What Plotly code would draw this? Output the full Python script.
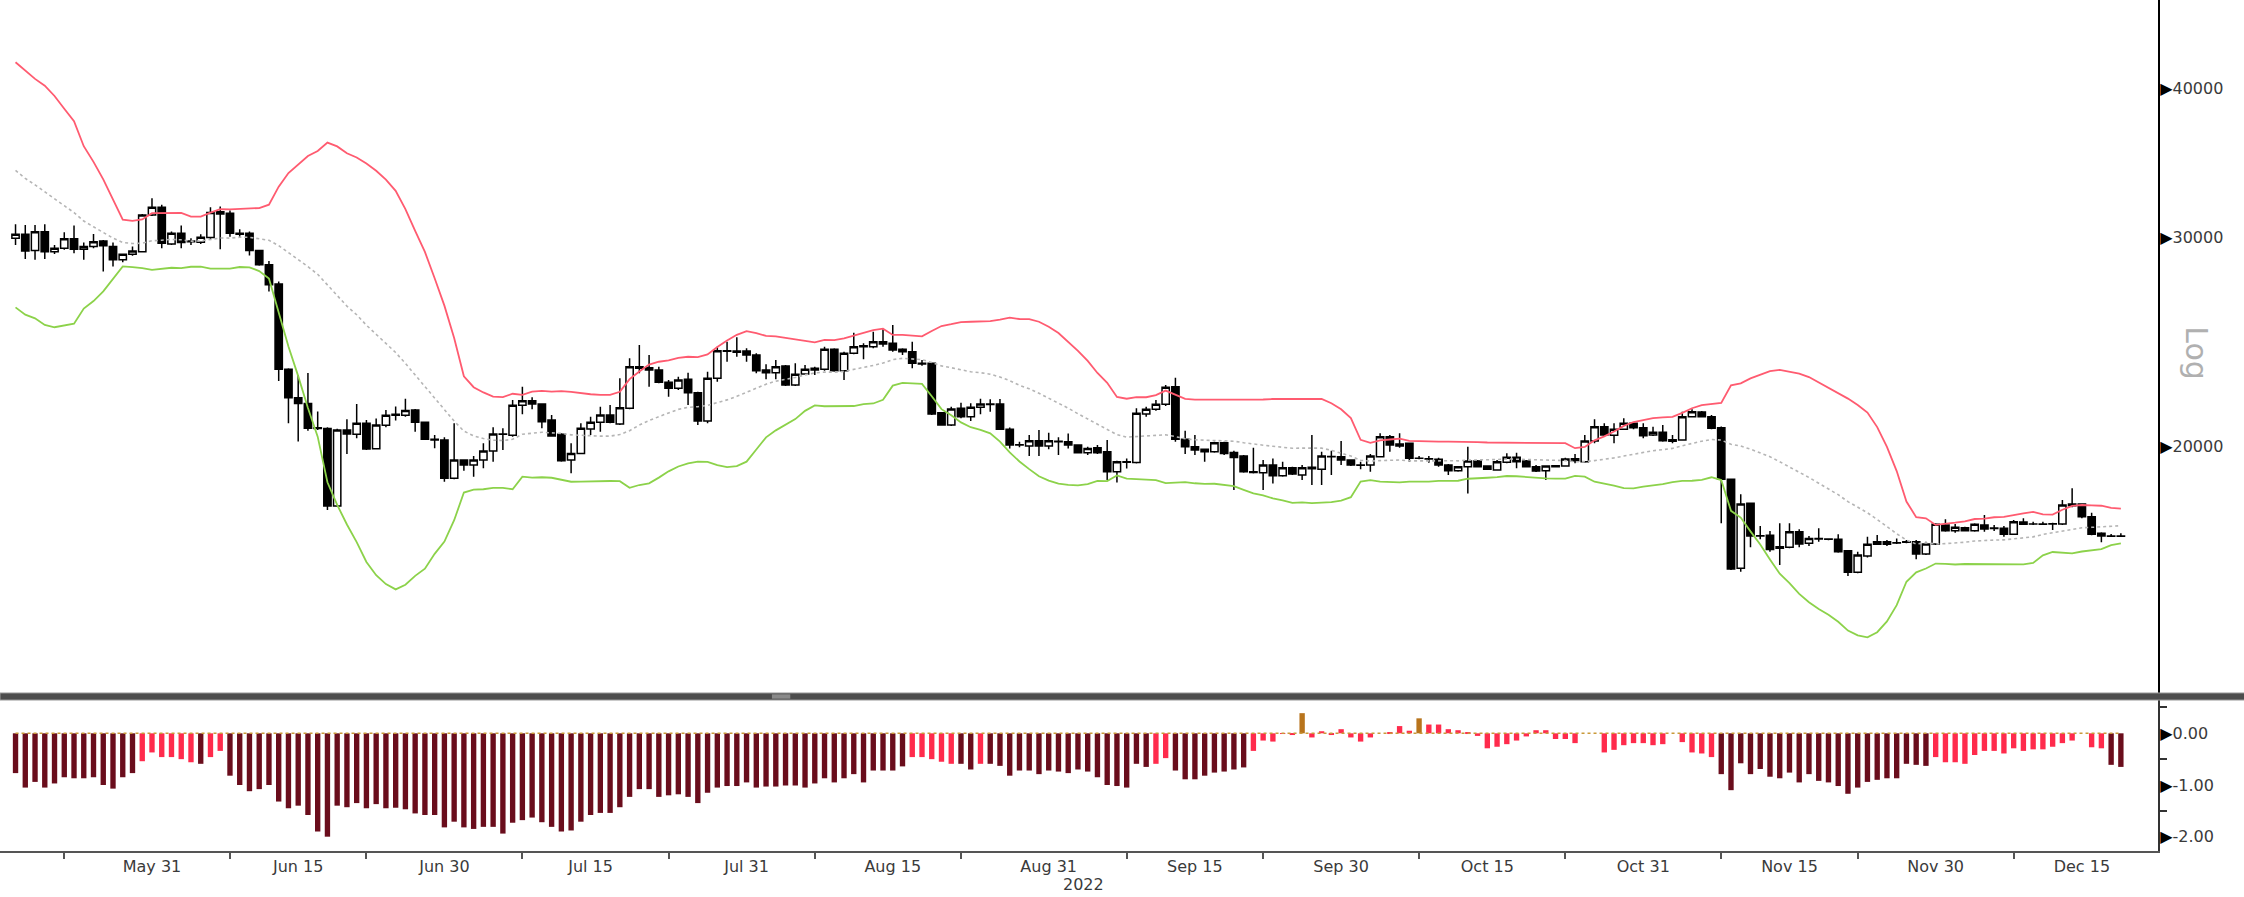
import pandas as pd
import plotly.graph_objects as go

# ---- daily prices, 17 May - 19 Dec 2022 ----
dates = pd.date_range("2022-05-17", "2022-12-19", freq="D")

ohlc = [
    # May
    (29930, 30750, 29540, 30160), (30160, 30710, 28750, 29200), (29220, 30710, 28700, 30300),
    (30300, 30750, 28750, 29150), (29150, 29540, 29030, 29350), (29350, 30280, 29260, 29890),
    (29890, 30670, 29070, 29300), (29300, 29680, 28700, 29450), (29450, 30180, 29350, 29730),
    (29770, 29830, 28050, 29490), (29450, 29680, 28330, 28700), (28700, 29010, 28570, 29010),
    (29010, 29450, 28920, 29200), (29150, 31370, 29110, 31310), (31310, 32340, 31250, 31780),
    # Jun
    (31780, 31930, 29350, 29640), (29600, 30320, 29540, 30220), (30220, 30670, 29350, 29680),
    (29730, 29930, 29540, 29760), (29700, 30160, 29600, 29990), (29970, 31780, 29870, 31460),
    (31500, 31830, 29300, 31370), (31415, 31580, 30020, 30220), (30220, 30450, 30020, 30160),
    (30220, 30320, 28940, 29220), (29220, 29260, 28365, 28420), (28420, 28640, 26990, 27340),
    (27380, 27520, 22690, 23210), (23210, 23250, 20900, 21965), (21965, 22950, 20170, 21720),
    (21720, 23040, 20600, 20700), (20690, 21380, 20630, 20720), (20690, 20740, 17660, 17800),
    (17800, 20680, 17780, 20630), (20630, 21060, 19690, 20470), (20460, 21700, 20300, 20900),
    (20900, 21030, 19845, 19880), (19895, 21100, 19870, 20830), (20820, 21450, 20740, 21230),
    (21230, 21590, 21010, 21270), (21230, 21920, 21170, 21420), (21450, 21490, 20560, 20940),
    (20940, 20970, 20230, 20260), (20260, 20430, 19910, 20230), (20233, 20337, 18661, 18782),
    # Jul
    (18782, 20898, 18746, 19462), (19462, 19487, 19063, 19274), (19274, 19614, 18843, 19462),
    (19462, 20102, 19150, 19805), (19805, 20736, 19399, 20469), (20469, 20696, 19844, 20456),
    (20417, 21865, 20364, 21640), (21640, 22430, 21265, 21836), (21836, 21978, 21472, 21696),
    (21696, 21724, 20696, 20965), (21033, 21238, 20364, 20390), (20456, 20496, 19399, 19437),
    (19462, 20102, 18965, 19715), (19715, 20898, 19690, 20696), (20669, 21169, 20430, 20938),
    (20938, 21584, 20563, 21238), (21238, 21654, 20898, 20938), (20870, 22804, 20830, 21542),
    (21514, 23707, 21472, 23327), (23327, 24328, 23026, 23251), (23281, 23861, 22438, 23176),
    (23176, 23327, 22583, 22627), (22627, 22730, 22006, 22365), (22365, 22878, 22293, 22730),
    (22760, 23056, 21654, 22178), (22178, 22221, 20830, 20992), (20992, 23101, 20898, 22804),
    (22804, 24250, 22657, 24062), (24062, 24486, 23554, 24040), (24046, 24693, 23784, 23985),
    (24046, 24171, 23554, 23861),
    # Aug
    (23861, 23938, 23026, 23146), (23176, 23432, 22760, 23056), (23056, 23630, 22760, 23327),
    (23357, 23402, 22467, 22511), (22511, 23478, 22467, 22982), (22997, 23402, 22982, 23206),
    (23176, 23327, 22952, 23251), (23206, 24250, 23146, 24124), (24124, 24171, 23101, 23146),
    (23146, 24016, 22730, 23938), (23938, 24918, 23892, 24250), (24250, 24406, 23660, 24290),
    (24249, 24966, 24171, 24485), (24485, 25079, 24249, 24375), (24406, 25290, 24015, 24093),
    (24124, 24171, 23860, 24015), (24015, 24485, 23250, 23477), (23477, 23630, 23371, 23450),
    (23477, 23507, 21238, 21279), (21334, 21362, 20803, 20829), (20829, 21584, 20789, 21486),
    (21514, 21752, 21101, 21169), (21169, 21724, 20992, 21556), (21556, 21921, 21265, 21696),
    (21696, 21893, 21376, 21680), (21696, 21907, 20628, 20655), (20655, 20735, 19907, 20036),
    (20050, 20166, 19946, 20040), (19998, 20429, 19613, 20206), (20206, 20628, 19613, 19998),
    (19998, 20522, 19869, 20206),
    # Sep
    (20180, 20337, 19651, 20166), (20166, 20495, 19907, 20036), (20036, 20060, 19715, 19740),
    (19740, 19972, 19651, 19907), (19933, 20036, 19689, 19740), (19779, 20232, 18721, 19026),
    (19026, 19436, 18636, 19398), (19398, 19524, 19149, 19380), (19373, 21514, 19336, 21307),
    (21279, 21584, 21169, 21473), (21473, 21865, 21417, 21682), (21682, 22510, 21612, 22409),
    (22437, 22833, 20166, 20258), (20258, 20601, 19689, 19972), (19972, 20429, 19651, 19843),
    (19869, 19907, 19398, 19779), (19779, 20166, 19740, 20128), (20128, 20166, 19651, 19715),
    (19753, 19817, 18361, 19562), (19613, 19651, 18989, 19026), (19026, 19933, 18964, 19000),
    (18989, 19461, 18361, 19273), (19273, 19524, 18600, 18879), (18879, 19398, 18842, 19174),
    (19174, 19211, 18903, 18940), (18904, 19274, 18721, 19175), (19187, 20430, 18540, 19138),
    (19113, 19780, 18540, 19614), (19589, 19818, 18904, 19600), (19589, 20194, 19274, 19462),
    # Oct
    (19462, 19488, 19237, 19274), (19274, 19400, 19113, 19262), (19274, 19690, 19027, 19614),
    (19589, 20497, 19563, 20364), (20364, 20430, 19780, 20038), (20076, 20497, 19934, 19999),
    (20102, 20128, 19400, 19525), (19525, 19614, 19488, 19530), (19510, 19614, 19362, 19500),
    (19488, 19551, 19212, 19274), (19274, 19312, 18904, 19064), (19064, 19237, 19027, 19212),
    (19212, 19973, 18242, 19425), (19425, 19462, 19187, 19212), (19237, 19262, 19088, 19113),
    (19088, 19462, 19064, 19400), (19374, 19716, 19337, 19563), (19563, 19741, 19150, 19400),
    (19425, 19462, 19187, 19212), (19212, 19274, 19014, 19051), (19064, 19262, 18721, 19237),
    (19250, 19262, 19200, 19212), (19237, 19551, 19212, 19500), (19513, 19690, 19337, 19437),
    (19400, 20430, 19362, 20194), (20194, 21061, 20102, 20764), (20764, 20898, 20391, 20430),
    (20417, 20898, 20102, 20656), (20656, 21102, 20630, 20898), (20898, 20939, 20656, 20723),
    (20723, 20898, 20299, 20404),
    # Nov
    (20430, 20764, 20391, 20536), (20536, 20831, 20168, 20207), (20246, 20430, 20102, 20181),
    (20233, 21377, 20207, 21171), (21171, 21480, 21143, 21377), (21363, 21400, 21150, 21171),
    (21171, 21239, 20656, 20696), (20720, 20770, 17220, 18750), (18750, 18760, 15722, 15753),
    (15773, 18209, 15672, 17871), (17894, 17894, 16429, 16794), (16794, 17124, 16686, 16805),
    (16816, 16958, 16291, 16365), (16450, 17213, 15876, 16397), (16429, 17213, 16397, 16937),
    (16937, 17013, 16429, 16535), (16557, 16794, 16471, 16718), (16718, 17046, 16611, 16700),
    (16700, 16720, 16660, 16686), (16686, 16849, 16259, 16291), (16323, 16344, 15540, 15651),
    (15651, 16291, 15621, 16186), (16155, 16773, 16113, 16525), (16525, 16827, 16503, 16611),
    (16611, 16664, 16471, 16525), (16578, 16718, 16535, 16570), (16611, 16664, 16557, 16590),
    (16611, 16664, 16051, 16218), (16218, 16611, 16186, 16535), (16535, 17213, 16503, 17179),
    # Dec
    (17157, 17347, 16937, 16969), (16969, 17190, 16904, 17080), (17068, 17100, 16950, 16969),
    (16969, 17213, 16937, 17179), (17157, 17493, 16937, 17024), (17040, 17157, 16958, 17060),
    (17046, 17124, 16773, 16849), (16849, 17324, 16827, 17268), (17257, 17380, 17157, 17179),
    (17190, 17268, 17157, 17195), (17190, 17268, 17170, 17185), (17190, 17235, 16991, 17200),
    (17190, 18011, 17157, 17836), (17871, 18423, 17756, 17813), (17871, 17894, 17380, 17437),
    (17437, 17573, 16816, 16849), (16882, 16915, 16589, 16794), (16794, 16860, 16773, 16790),
    (16794, 16882, 16773, 16790),
]
open_ = [row[0] for row in ohlc]
high = [row[1] for row in ohlc]
low = [row[2] for row in ohlc]
close = [row[3] for row in ohlc]

# closes of the 19 sessions before 17 May, needed to start the 20-day bands
history_close = [39773, 38610, 37714, 38469, 38529, 37750, 39698, 36575, 36040, 35501,
                 34060, 30297, 31023, 28936, 29047, 29283, 30101, 31305, 29862]

# ---- oscillator shown in the lower pane ----
osc = [
    # 17 May - 7 Sep
    -0.77, -1.05, -0.94, -1.05, -0.97, -0.85, -0.87, -0.87, -0.85, -1.00, -1.07, -0.85, -0.77,
    -0.54, -0.37, -0.46, -0.46, -0.50, -0.56, -0.59, -0.46, -0.34,
    -0.82, -1.00, -1.12, -1.08, -1.00, -1.32, -1.45, -1.40, -1.58, -1.90,
    -2.00, -1.40, -1.43, -1.35, -1.45, -1.37, -1.45, -1.44, -1.47, -1.55,
    -1.58, -1.58, -1.82, -1.71, -1.82, -1.85, -1.81, -1.81, -1.94, -1.73,
    -1.68, -1.63, -1.72, -1.81, -1.90, -1.88, -1.71, -1.58, -1.54, -1.54,
    -1.43, -1.23, -1.08, -1.08, -1.23, -1.20, -1.18, -1.23, -1.35, -1.15,
    -1.05, -1.02, -1.02, -0.95, -1.05, -1.03, -1.03, -1.01, -1.01, -1.05,
    -0.97, -0.87, -0.95, -0.87, -0.79, -0.95, -0.72, -0.72, -0.72, -0.64,
    -0.46, -0.46, -0.50, -0.55, -0.59, -0.59, -0.70, -0.59, -0.59, -0.63, -0.82,
    -0.72, -0.72, -0.79, -0.72, -0.74, -0.77, -0.70, -0.74, -0.85, -1.00, -1.02,
    # 8 Sep - 30 Sep
    -1.05, -0.59, -0.65, -0.59, -0.48, -0.72, -0.89, -0.89, -0.82, -0.76, -0.74, -0.70,
    -0.66, -0.34, -0.14, -0.16, -0.01, -0.03, 0.39, -0.08, 0.04, -0.03, 0.08,
    # Oct
    -0.08, -0.16, -0.08, 0.00, 0.01, 0.14, 0.05, 0.29, 0.17, 0.17, 0.08, 0.06, 0.01, -0.05,
    -0.29, -0.26, -0.21, -0.14, -0.06, 0.06, 0.06, -0.11, -0.11, -0.19, 0.00, 0.00, -0.37,
    -0.32, -0.23, -0.19, -0.19,
    # Nov
    -0.23, -0.21, 0.00, -0.17, -0.37, -0.39, -0.46, -0.79, -1.10, -0.58, -0.79, -0.69, -0.84,
    -0.87, -0.76, -0.95, -0.79, -0.92, -0.95, -1.02, -1.17, -1.05, -0.94, -0.90, -0.87, -0.87,
    -0.59, -0.61, -0.63, -0.46,
    # Dec
    -0.56, -0.56, -0.59, -0.42, -0.34, -0.34, -0.39, -0.29, -0.34, -0.31, -0.31, -0.26, -0.19,
    -0.14, 0.00, -0.27, -0.29, -0.61, -0.65,
]
# bar shading in runs: d = deep, r = light, o = ochre
osc_tone_runs = [("d", 13), ("r", 6), ("d", 1), ("r", 2), ("d", 70), ("r", 5), ("d", 2),
                 ("r", 1), ("d", 14), ("d", 3), ("r", 2), ("d", 8), ("r", 5), ("o", 1),
                 ("r", 11), ("o", 1), ("r", 30), ("d", 22), ("r", 18), ("d", 2)]

x_labels = ["2022-05-31", "2022-06-15", "2022-06-30", "2022-07-15", "2022-07-31",
            "2022-08-15", "2022-08-31", "2022-09-15", "2022-09-30", "2022-10-15",
            "2022-10-31", "2022-11-15", "2022-11-30", "2022-12-15"]
x_label_text = ["May 31", "Jun 15", "Jun 30", "Jul 15", "Jul 31", "Aug 15", "Aug 31",
                "Sep 15", "Sep 30", "Oct 15", "Oct 31", "Nov 15", "Nov 30", "Dec 15"]
price_ticks = [20000, 30000, 40000]
osc_ticks = [0, -1, -2]

# ---- Bollinger bands (20 days, 2 standard deviations) ----
all_close = pd.Series(history_close + close, dtype=float)
sma = all_close.rolling(20).mean()
sd = all_close.rolling(20).std(ddof=0)
n_hist = len(history_close)
mid_band = sma.iloc[n_hist:].to_numpy()
upper_band = (sma + 2 * sd).iloc[n_hist:].to_numpy()
lower_band = (sma - 2 * sd).iloc[n_hist:].to_numpy()

tone_colors = {"d": "#6a0d1c", "r": "#ff2b4c", "o": "#b8741c"}
osc_colors = [tone_colors[t] for t, n in osc_tone_runs for _ in range(n)]

AXIS_FONT = dict(family="DejaVu Sans", size=16, color="#3a3a3a")
TRI = '<span style="color:#000000">\u25b6</span>'

fig = go.Figure()

fig.add_trace(go.Candlestick(
    x=dates, open=open_, high=high, low=low, close=close,
    increasing=dict(line=dict(color="#000000", width=1.5), fillcolor="#ffffff"),
    decreasing=dict(line=dict(color="#000000", width=1.5), fillcolor="#000000"),
    whiskerwidth=0, xaxis="x", yaxis="y", hoverinfo="skip", showlegend=False,
))
fig.add_trace(go.Scatter(x=dates, y=upper_band, mode="lines",
                         line=dict(color="#ff5b70", width=1.8), xaxis="x", yaxis="y",
                         hoverinfo="skip", showlegend=False))
fig.add_trace(go.Scatter(x=dates, y=lower_band, mode="lines",
                         line=dict(color="#8cd24a", width=1.8), xaxis="x", yaxis="y",
                         hoverinfo="skip", showlegend=False))
fig.add_trace(go.Scatter(x=dates, y=mid_band, mode="lines",
                         line=dict(color="#b5b5b5", width=1.6, dash="dot"), xaxis="x", yaxis="y",
                         hoverinfo="skip", showlegend=False))

fig.add_trace(go.Bar(x=dates, y=osc, marker=dict(color=osc_colors, line=dict(width=0)),
                     width=0.55 * 86400000, xaxis="x2", yaxis="y2",
                     hoverinfo="skip", showlegend=False))

x_range = ["2022-05-15 09:45", "2022-12-22 19:25"]
minor_x = ["2022-05-22", "2022-06-08", "2022-06-22", "2022-07-08", "2022-07-23", "2022-08-07",
           "2022-08-22", "2022-09-08", "2022-09-22", "2022-10-08", "2022-10-23", "2022-11-08",
           "2022-11-22", "2022-12-08"]

fig.update_layout(
    width=2244, height=897,
    margin=dict(l=0, r=86, t=0, b=46),
    paper_bgcolor="#ffffff", plot_bgcolor="#ffffff",
    showlegend=False,
    boxgap=0.25, boxgroupgap=0,
    xaxis=dict(domain=[0, 1], anchor="y", type="date", range=x_range,
               showticklabels=False, showline=False, showgrid=False, zeroline=False,
               ticks="", rangeslider=dict(visible=False)),
    xaxis2=dict(domain=[0, 1], anchor="y2", type="date", range=x_range, matches="x",
                showline=True, linecolor="#555555", linewidth=2, showgrid=False,
                zeroline=False, ticks="", tickmode="array", tickvals=x_labels,
                ticktext=x_label_text, tickfont=AXIS_FONT,
                minor=dict(tickmode="array", tickvals=minor_x, ticks="outside",
                           ticklen=6, tickwidth=1.5, tickcolor="#555555", showgrid=False)),
    yaxis=dict(domain=[0.1857, 1], anchor="x", type="log", range=[4.09294, 4.67677],
               side="right", showline=True, linecolor="#000000", linewidth=2,
               showgrid=False, zeroline=False, ticks="", tickmode="array",
               tickvals=price_ticks, ticktext=[TRI + f"{v}" for v in price_ticks],
               tickfont=AXIS_FONT, ticklabelstandoff=-3),
    yaxis2=dict(domain=[0, 0.1774], anchor="x2", range=[-2.277, 0.644],
                side="right", showline=True, linecolor="#333333", linewidth=2,
                showgrid=False, zeroline=False, ticks="", tickmode="array",
                tickvals=osc_ticks, ticktext=[TRI + f"{v:.2f}" for v in osc_ticks],
                tickfont=AXIS_FONT, ticklabelstandoff=-3,
                minor=dict(tickmode="array", tickvals=[0.5, -0.5, -1.5], ticks="outside",
                           ticklen=7, tickwidth=1.5, tickcolor="#333333", showgrid=False)),
)

# zero reference in the oscillator pane
fig.add_shape(type="line", xref="x2", yref="y2", x0=dates[0], x1=dates[-1], y0=0, y1=0,
              line=dict(color="#c99a3a", width=1.5, dash="dot"), layer="above")

# pane splitter
fig.add_shape(type="rect", xref="paper", yref="paper", x0=0, x1=1.05, y0=0.1774, y1=0.1857,
              fillcolor="#4d4d4d", line=dict(color="#9c9c9c", width=1), layer="above")
fig.add_shape(type="rect", xref="paper", yref="paper", x0=0.3577, x1=0.3662,
              y0=0.1790, y1=0.1841, fillcolor="#8a8a8a", line=dict(width=0), layer="above")

fig.add_annotation(text="Log", xref="paper", yref="paper", x=1.018, y=0.585,
                   textangle=90, showarrow=False, xanchor="center", yanchor="middle",
                   font=dict(family="DejaVu Sans", size=30, color="#b0b0b0"))
fig.add_annotation(text="2022", xref="paper", yref="paper", x=0.5019, y=-0.0388,
                   showarrow=False, xanchor="center", yanchor="middle", font=AXIS_FONT)

fig.write_html("out.html")
